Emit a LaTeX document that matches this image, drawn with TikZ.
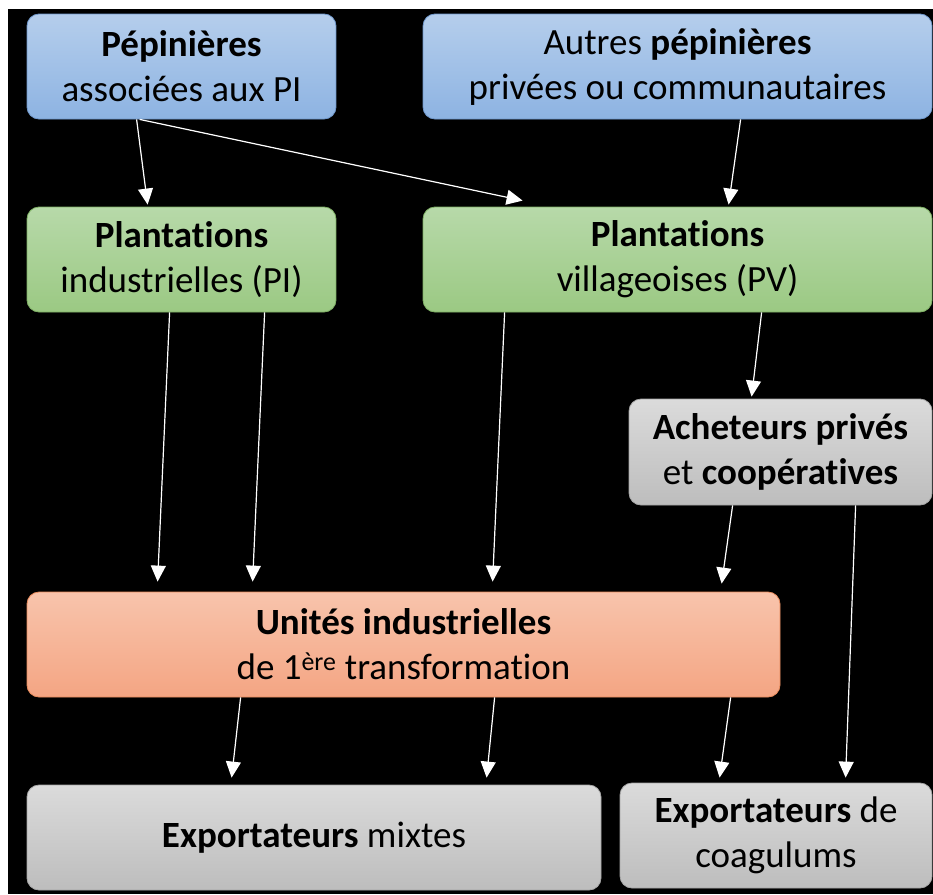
\documentclass[tikz,border=0pt]{standalone}
\usepackage{fontspec}
\setmainfont{Carlito}[Ligatures=CommonOff]
\usetikzlibrary{arrows.meta,calc}
\newcommand{\nolig}{\kern0pt }
\definecolor{bluetop}{HTML}{B5CEEC}
\definecolor{bluebot}{HTML}{8DB3E2}
\definecolor{blueline}{HTML}{6F97CB}
\definecolor{greentop}{HTML}{B7D9A9}
\definecolor{greenbot}{HTML}{9BC983}
\definecolor{greenline}{HTML}{7FB065}
\definecolor{greytop}{HTML}{DBDBDB}
\definecolor{greybot}{HTML}{BDBDBD}
\definecolor{greyline}{HTML}{A6A6A6}
\definecolor{orangetop}{HTML}{F8C4AC}
\definecolor{orangebot}{HTML}{F4A583}
\definecolor{orangeline}{HTML}{E98B5C}
\tikzset{
  box/.style={rounded corners=12pt, line width=0.8pt, align=center, inner sep=0pt,
    minimum height=105pt, font=\fontsize{37}{45}\selectfont, text=black},
  bluebox/.style={box, draw=blueline, top color=bluetop, bottom color=bluebot},
  greenbox/.style={box, draw=greenline, top color=greentop, bottom color=greenbot},
  greybox/.style={box, draw=greyline, top color=greytop, bottom color=greybot},
  orangebox/.style={box, draw=orangeline, top color=orangetop, bottom color=orangebot},
  arr/.style={draw=white, line width=1.2pt, -{Triangle[length=16pt,width=15pt]}, fill=white}
}
\begin{document}
\begin{tikzpicture}[x=1pt,y=-1pt]
\useasboundingbox (0,0) rectangle (933,894);
\fill[white] (0,0) rectangle (933,894);
\fill[black] (8,9) rectangle (933,894);

\node[bluebox, minimum width=309pt] (pep) at (181.5,66.5) {\textbf{Pépinières}\\associées aux PI};
\node[bluebox, minimum width=509pt] (aut) at (677.5,66.5) {Autres \textbf{pépinières}\\privées ou communautaires};
\node[greenbox, minimum width=309pt] (pi) at (181.5,259.5) {\textbf{Plantat\nolig ions}\\industrielles (PI)};
\node[greenbox, minimum width=509pt] (pv) at (677.5,259.5) {\textbf{Plantat\nolig ions}\\villageoises (PV)};
\node[greybox, minimum width=303pt, minimum height=106pt] (ach) at (780.5,452) {\textbf{Acheteurs privés}\\et \textbf{coopératives}};
\node[orangebox, minimum width=753pt] (uni) at (403.5,644.5) {\textbf{Unités industrielles}\\de 1\textsuperscript{ère} transformat\nolig ion};
\node[greybox, minimum width=574pt] (exm) at (314,837.5) {\textbf{Exportateurs} mixtes};
\node[greybox, minimum width=312pt] (exc) at (776,835.5) {\textbf{Exportateurs} de\\coagulums};

\draw[arr] ($(pep.south west)+(110,0)$) -- ($(pi.north west)+(121,-2)$);
\draw[arr] ($(pep.south west)+(113,0)$) -- ($(pv.north west)+(100,-6)$);
\draw[arr] ($(aut.south west)+(318,0)$) -- ($(pv.north west)+(306,-2)$);
\draw[arr] ($(pi.south west)+(143,0)$) -- ($(uni.north west)+(131,-10)$);
\draw[arr] ($(pi.south west)+(238,0)$) -- ($(uni.north west)+(226,-10)$);
\draw[arr] ($(pv.south west)+(82,0)$) -- ($(uni.north west)+(466,-10)$);
\draw[arr] ($(pv.south west)+(339,0)$) -- ($(ach.north west)+(123,-2)$);
\draw[arr] ($(ach.south west)+(104,0)$) -- ($(uni.north west)+(695,-8)$);
\draw[arr] ($(ach.south west)+(227,0)$) -- ($(exc.north west)+(226,-5)$);
\draw[arr] ($(uni.south west)+(214,0)$) -- ($(exm.north west)+(205,-7)$);
\draw[arr] ($(uni.south west)+(468,0)$) -- ($(exm.north west)+(460,-7)$);
\draw[arr] ($(uni.south west)+(704,0)$) -- ($(exc.north west)+(100,-5)$);
\end{tikzpicture}
\end{document}
